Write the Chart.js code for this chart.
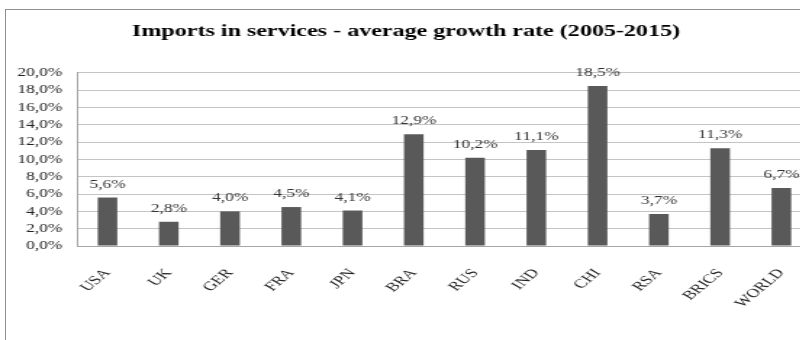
<!DOCTYPE html>
<html>
<head>
<meta charset="utf-8">
<script src="https://cdn.jsdelivr.net/npm/chart.js@4"></script>
<style>
  body { margin: 0; overflow: hidden; background: #fff; width: 800px; height: 340px; }
  #frame { position: absolute; left: 5px; top: 9px; width: 840px; height: 400px; border: 1px solid #8f8f8f; }
  #chart { position: absolute; left: 0; top: 0; transform: scaleX(1.45); transform-origin: 0 0; }
</style>
</head>
<body>
<div id="frame"></div>
<canvas id="chart" width="565" height="340"></canvas>
<script>
// data
const countries = ['USA', 'UK', 'GER', 'FRA', 'JPN', 'BRA', 'RUS', 'IND', 'CHI', 'RSA', 'BRICS', 'WORLD'];
const growthRates = [5.6, 2.8, 4.0, 4.5, 4.1, 12.9, 10.2, 11.1, 18.5, 3.7, 11.3, 6.7];
const yTicks = [0, 2, 4, 6, 8, 10, 12, 14, 16, 18, 20];

const serif = "'Liberation Serif', 'Times New Roman', serif";
const fmt = v => v.toFixed(1).replace('.', ',') + '%';

// value labels above each bar
const barLabels = {
    id: 'barLabels',
    afterDatasetsDraw(chart) {
        const ctx = chart.ctx;
        const meta = chart.getDatasetMeta(0);
        ctx.save();
        ctx.font = '12px ' + serif;
        ctx.fillStyle = '#333';
        ctx.textAlign = 'center';
        ctx.textBaseline = 'alphabetic';
        meta.data.forEach((bar, i) => {
            ctx.fillText(fmt(growthRates[i]), bar.x, bar.y - 10);
        });
        ctx.restore();
    }
};

new Chart(document.getElementById('chart').getContext('2d'), {
    type: 'bar',
    data: {
        labels: countries,
        datasets: [{
            data: growthRates,
            backgroundColor: '#595959',
            categoryPercentage: 1,
            barPercentage: 0.32
        }]
    },
    options: {
        responsive: false,
        animation: false,
        layout: { padding: { left: 0, right: 5, top: 0, bottom: 0 } },
        plugins: {
            legend: { display: false },
            tooltip: { enabled: false },
            title: {
                display: true,
                text: 'Imports in services - average growth rate (2005-2015)',
                color: '#000',
                font: { family: serif, size: 16.6, weight: 'bold', lineHeight: 1.2 },
                padding: { top: 22, bottom: 31 }
            }
        },
        scales: {
            x: {
                grid: { display: false, drawTicks: false },
                border: { color: '#a6a6a6' },
                ticks: {
                    color: '#222',
                    font: { family: serif, size: 12.5 },
                    maxRotation: 50,
                    minRotation: 50,
                    autoSkip: false,
                    padding: 20
                },
                afterFit(scale) {
                    scale.height = 94;
                    scale.paddingLeft = 0;
                    scale.paddingRight = 0;
                }
            },
            y: {
                min: 0,
                max: 20,
                afterBuildTicks(scale) { scale.ticks = yTicks.map(v => ({ value: v })); },
                grid: { color: '#c4c4c4', drawTicks: false },
                border: { color: '#a6a6a6' },
                ticks: {
                    color: '#222',
                    font: { family: serif, size: 12 },
                    padding: 10,
                    autoSkip: false,
                    callback: v => fmt(v)
                },
                afterFit(scale) { scale.width = 53; }
            }
        }
    },
    plugins: [barLabels]
});
</script>
</body>
</html>
